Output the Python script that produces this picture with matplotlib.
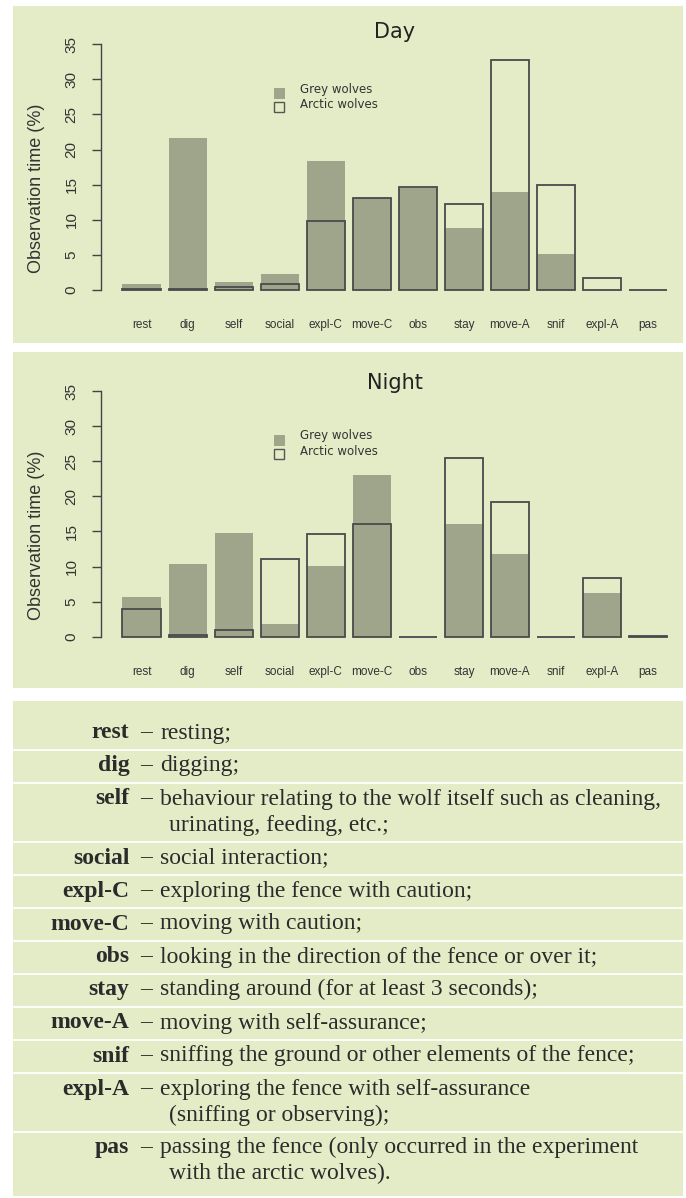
import numpy as np
import matplotlib
matplotlib.use("Agg")
import matplotlib.pyplot as plt
from matplotlib.patches import Rectangle

# ---------------- data ----------------
categories = ['rest', 'dig', 'self', 'social', 'expl-C', 'move-C', 'obs',
              'stay', 'move-A', 'snif', 'expl-A', 'pas']
day_grey = [0.8, 21.6, 1.1, 2.3, 18.4, 13.1, 14.6, 8.9, 14.0, 5.1, 0.0, 0.0]
day_arctic = [0.15, 0.1, 0.45, 0.9, 9.8, 13.1, 14.7, 12.2, 32.8, 14.9, 1.65, 0.05]
night_grey = [5.6, 10.35, 14.8, 1.85, 10.1, 23.0, 0.0, 16.05, 11.8, 0.0, 6.2, 0.0]
night_arctic = [4.0, 0.2, 0.95, 11.1, 14.6, 16.0, 0.0, 25.5, 19.2, 0.0, 8.4, 0.1]
y_ticks = [0, 5, 10, 15, 20, 25, 30, 35]
series_names = ['Grey wolves', 'Arctic wolves']
titles = ['Day', 'Night']
y_label = 'Observation time (%)'

terms = ['rest', 'dig', 'self', 'social', 'expl-C', 'move-C', 'obs', 'stay',
         'move-A', 'snif', 'expl-A', 'pas']
descriptions = [
    ['resting;'],
    ['digging;'],
    ['behaviour relating to the wolf itself such as cleaning,',
     'urinating, feeding, etc.;'],
    ['social interaction;'],
    ['exploring the fence with caution;'],
    ['moving with caution;'],
    ['looking in the direction of the fence or over it;'],
    ['standing around (for at least 3 seconds);'],
    ['moving with self-assurance;'],
    ['sniffing the ground or other elements of the fence;'],
    ['exploring the fence with self-assurance',
     '(sniffing or observing);'],
    ['passing the fence (only occurred in the experiment',
     'with the arctic wolves).'],
]

# ---------------- style ----------------
W, H = 686, 1198
BG = '#e3ecc7'
GREY = '#9ea58b'
EDGE = '#4a4a4a'
TXT = '#2b2b2b'
PPU = 7.02  # pixels per percentage unit

fig = plt.figure(figsize=(W / 100, H / 100), dpi=100)
fig.patch.set_facecolor('white')

bg = fig.add_axes([0, 0, 1, 1])
bg.set_xlim(0, W)
bg.set_ylim(H, 0)
bg.axis('off')
bg.set_zorder(0)

# panels
for (y0, y1) in [(6, 343.3), (352.3, 688), (701, 1196)]:
    bg.add_patch(Rectangle((13, y0), 670, y1 - y0, facecolor=BG,
                           edgecolor='none'))


def chart(zero_px, title_px, grey, arctic, title):
    bottom = zero_px + 1.4 * PPU
    top = zero_px - 36.4 * PPU
    left, right = 100.7, 689
    ax = fig.add_axes([left / W, 1 - bottom / H, (right - left) / W,
                       (bottom - top) / H])
    ax.set_zorder(2)
    ax.patch.set_alpha(0)
    x = 0.7 + 1.2 * np.arange(len(categories))
    ax.bar(x, grey, width=1, color=GREY, edgecolor='none', zorder=2)
    ax.bar(x, arctic, width=1, facecolor='none', edgecolor=EDGE,
           linewidth=1.3, zorder=3)
    ax.set_xlim(-0.368, 14.968)
    ax.set_ylim(-1.4, 36.4)
    for s in ['top', 'right', 'bottom']:
        ax.spines[s].set_visible(False)
    ax.spines['left'].set_bounds(0, 35)
    ax.spines['left'].set_color('#444444')
    ax.spines['left'].set_linewidth(1.0)
    ax.set_yticks(y_ticks)
    ax.set_yticklabels([str(v) for v in y_ticks], family='Liberation Sans',
                       fontsize=11, color='#333333', rotation=90,
                       va='center', ha='right')
    ax.tick_params(axis='y', length=6.5, width=1.0, color='#444444', pad=9.5)
    ax.set_xticks(x)
    ax.set_xticklabels(categories, family='Liberation Sans', fontsize=8.5,
                       color='#333333')
    ax.tick_params(axis='x', length=0, pad=14)

    fig.text(395 / W, 1 - title_px / H, title, family='DejaVu Sans',
             fontsize=15, color='#222222', ha='center', va='center')
    fig.text(37 / W, 1 - (zero_px - 101.5) / H, y_label,
             family='Liberation Sans', fontsize=13, color='#333333',
             rotation=90, ha='center', va='center')
    # legend
    off = zero_px - 290
    bg.add_patch(Rectangle((273.5, 88.3 + off), 11, 11, facecolor=GREY,
                           edgecolor='none', zorder=3))
    bg.add_patch(Rectangle((274, 102.3 + off), 10, 10, facecolor='none',
                           edgecolor='#555555', linewidth=1.0, zorder=3))
    bg.text(300, 89 + off, series_names[0], family='DejaVu Sans',
            fontsize=8.5, color='#333333', ha='left', va='center')
    bg.text(300, 105 + off, series_names[1], family='DejaVu Sans',
            fontsize=8.5, color='#333333', ha='left', va='center')
    return ax


chart(290.0, 32.5, day_grey, day_arctic, titles[0])
chart(636.7, 383.5, night_grey, night_arctic, titles[1])

# ---------------- glossary table ----------------
row_top = 717.0
for i, (term, lines) in enumerate(zip(terms, descriptions)):
    base = row_top + 21.5
    bg.text(129.5, base, term, family='Liberation Serif', fontweight='bold',
            fontsize=17, color=TXT, ha='right', va='baseline')
    bg.text(140, base, '\u2013', family='Liberation Serif', fontsize=17,
            color=TXT, ha='left', va='baseline')
    for j, line in enumerate(lines):
        bg.text(160.5 if j == 0 else 169, base + 26 * j, line,
                family='Liberation Serif', fontsize=17, color=TXT,
                ha='left', va='baseline')
    row_bottom = row_top + 33 + 26 * (len(lines) - 1)
    if i < len(terms) - 1:
        bg.plot([13, 683], [row_bottom, row_bottom], color='white',
                linewidth=1.3, solid_capstyle='butt')
    row_top = row_bottom

fig.savefig('out.png', dpi=100, facecolor='white')
